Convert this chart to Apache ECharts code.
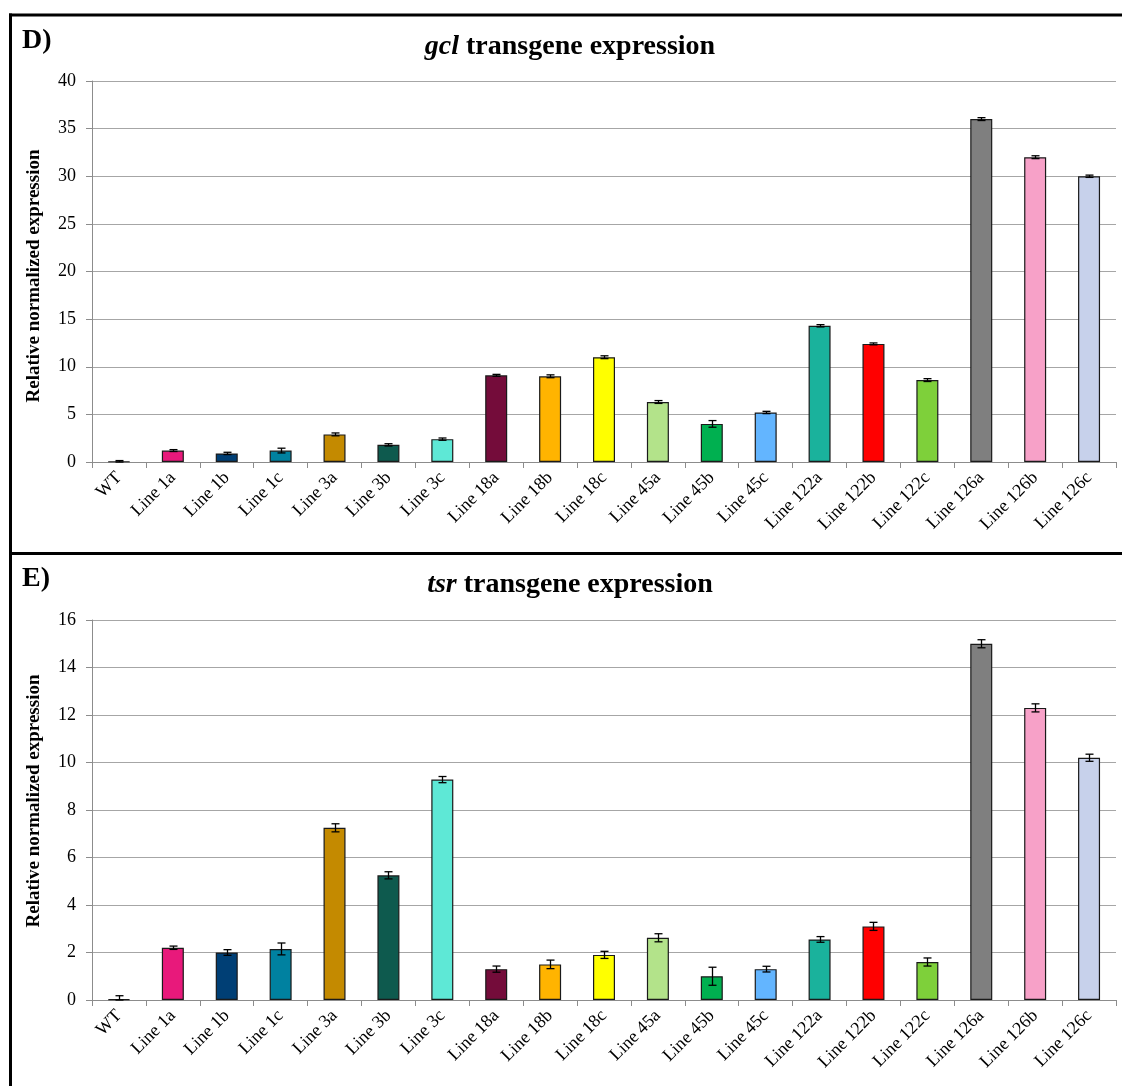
<!DOCTYPE html>
<html>
<head>
<meta charset="utf-8">
<script src="https://cdn.jsdelivr.net/npm/echarts@6/dist/echarts.min.js"></script>
<style>
html,body{margin:0;padding:0;background:#fff;}
#c{width:1122px;height:1086px;}
</style>
</head>
<body>
<div id="c"></div>
<script>
var categories = ['WT','Line 1a','Line 1b','Line 1c','Line 3a','Line 3b','Line 3c','Line 18a','Line 18b','Line 18c','Line 45a','Line 45b','Line 45c','Line 122a','Line 122b','Line 122c','Line 126a','Line 126b','Line 126c'];
var barColors = ['#BFBFBF','#E8197B','#003F75','#0081A0','#C48A00','#0E5A4E','#5EE8D6','#740C3A','#FFB400','#FFFF00','#B3E38A','#00B050','#63B5FF','#1AB29C','#FF0000','#7ED03A','#7F7F7F','#F7A1C8','#C7D1EB'];
var gclValues = [0.05,1.2,0.9,1.2,2.9,1.8,2.4,9.1,9.0,11.0,6.3,4.0,5.2,14.3,12.4,8.6,36.0,32.0,30.0];
var gclErrors = [0.1,0.1,0.12,0.25,0.15,0.12,0.12,0.1,0.15,0.15,0.15,0.35,0.12,0.12,0.1,0.15,0.15,0.15,0.12];
var tsrValues = [0.03,2.2,2.0,2.15,7.25,5.25,9.28,1.3,1.5,1.9,2.62,1.0,1.3,2.55,3.1,1.6,15.0,12.3,10.2];
var tsrErrors = [0.15,0.07,0.12,0.25,0.17,0.15,0.13,0.13,0.18,0.15,0.17,0.38,0.12,0.12,0.17,0.17,0.17,0.17,0.15];
var gclTicks = {min:0, max:40, interval:5};
var tsrTicks = {min:0, max:16, interval:2};

var FONT = "'Liberation Serif','Times New Roman',serif";

function barData(vals){
  return vals.map(function(v,i){ return {value:v, itemStyle:{color:barColors[i]}}; });
}
function errData(vals, errs){
  return vals.map(function(v,i){ return [i, v, Math.max(0,v-errs[i]), v+errs[i]]; });
}
function errRender(params, api){
  var x = api.value(0);
  var lo = api.coord([x, api.value(2)]);
  var hi = api.coord([x, api.value(3)]);
  var cx = Math.round(lo[0]) + 0.5;
  var cap = 4;
  var st = {stroke:'#000', lineWidth:1.3};
  return {type:'group', children:[
    {type:'line', shape:{x1:cx,y1:lo[1],x2:cx,y2:hi[1]}, style:st},
    {type:'line', shape:{x1:cx-cap,y1:lo[1],x2:cx+cap,y2:lo[1]}, style:st},
    {type:'line', shape:{x1:cx-cap,y1:hi[1],x2:cx+cap,y2:hi[1]}, style:st}
  ]};
}
function xAxisCfg(gi){
  return {
    type:'category', gridIndex:gi, data:categories,
    axisLine:{lineStyle:{color:'#8C8C8C', width:1}},
    axisTick:{show:true, length:6, lineStyle:{color:'#8C8C8C'}},
    axisLabel:{rotate:45, interval:0, margin:13, color:'#000', fontFamily:FONT, fontSize:18},
    splitLine:{show:false}
  };
}
function yAxisCfg(gi, t){
  return {
    type:'value', gridIndex:gi, min:t.min, max:t.max, interval:t.interval,
    axisLine:{show:true, lineStyle:{color:'#8C8C8C', width:1}},
    axisTick:{show:true, length:6, lineStyle:{color:'#8C8C8C'}},
    axisLabel:{margin:16, color:'#000', fontFamily:FONT, fontSize:18},
    splitLine:{show:true, lineStyle:{color:'#A6A6A6', width:1.2}}
  };
}

var chart = echarts.init(document.getElementById('c'), null, {renderer:'canvas'});
chart.setOption({
  backgroundColor:'#fff',
  animation:false,
  grid:[
    {left:92, right:6, top:81, height:381},
    {left:92, right:6, top:620, height:380}
  ],
  xAxis:[xAxisCfg(0), xAxisCfg(1)],
  yAxis:[yAxisCfg(0,gclTicks), yAxisCfg(1,tsrTicks)],
  series:[
    {type:'bar', xAxisIndex:0, yAxisIndex:0, data:barData(gclValues), barWidth:22,
     itemStyle:{borderColor:'#1a1a1a', borderWidth:1.2}},
    {type:'custom', xAxisIndex:0, yAxisIndex:0, data:errData(gclValues,gclErrors), renderItem:errRender, z:5},
    {type:'bar', xAxisIndex:1, yAxisIndex:1, data:barData(tsrValues), barWidth:22,
     itemStyle:{borderColor:'#1a1a1a', borderWidth:1.2}},
    {type:'custom', xAxisIndex:1, yAxisIndex:1, data:errData(tsrValues,tsrErrors), renderItem:errRender, z:5}
  ],
  graphic:[
    {type:'line', shape:{x1:9,y1:15,x2:1122,y2:15}, style:{stroke:'#000', lineWidth:3}},
    {type:'line', shape:{x1:10.5,y1:13.5,x2:10.5,y2:1086}, style:{stroke:'#000', lineWidth:3}},
    {type:'line', shape:{x1:9,y1:553.5,x2:1122,y2:553.5}, style:{stroke:'#000', lineWidth:3}},
    {type:'text', left:22, top:27, style:{text:'D)', font:'bold 28px '+FONT, fill:'#000'}},
    {type:'text', left:22, top:565, style:{text:'E)', font:'bold 28px '+FONT, fill:'#000'}},
    {type:'text', x:570, y:47, style:{text:'{i|gcl} transgene expression', font:'bold 28px '+FONT, fill:'#000', textAlign:'center', textVerticalAlign:'middle',
      rich:{i:{fontStyle:'italic', fontWeight:'bold', fontSize:28, fontFamily:FONT}}}},
    {type:'text', x:570, y:585, style:{text:'{i|tsr} transgene expression', font:'bold 28px '+FONT, fill:'#000', textAlign:'center', textVerticalAlign:'middle',
      rich:{i:{fontStyle:'italic', fontWeight:'bold', fontSize:28, fontFamily:FONT}}}},
    {type:'text', x:34, y:276, rotation:Math.PI/2, style:{text:'Relative normalized expression', font:'bold 19px '+FONT, fill:'#000', textAlign:'center', textVerticalAlign:'middle'}},
    {type:'text', x:34, y:801, rotation:Math.PI/2, style:{text:'Relative normalized expression', font:'bold 19px '+FONT, fill:'#000', textAlign:'center', textVerticalAlign:'middle'}}
  ]
});
</script>
</body>
</html>
